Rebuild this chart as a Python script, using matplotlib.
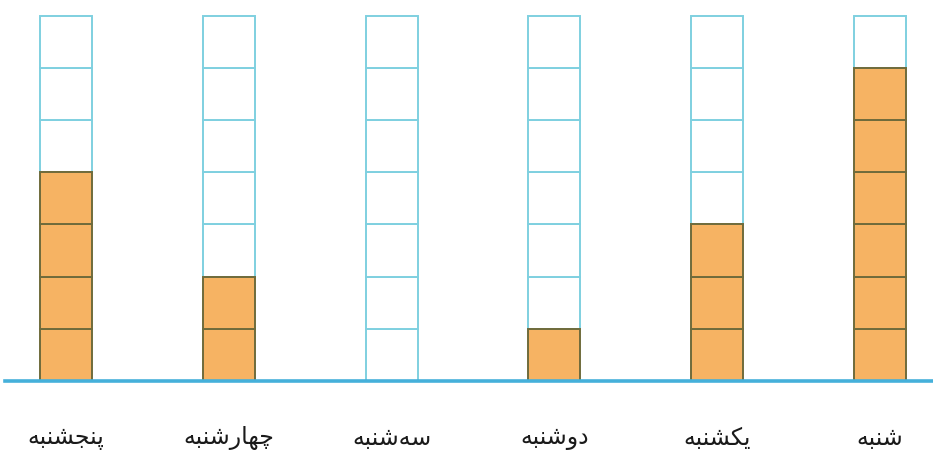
import matplotlib
matplotlib.use('Agg')
import matplotlib.pyplot as plt

# روزهای هفته (از شنبه) و تعداد خانه‌های رنگ‌شده
days = ['شنبه', 'یکشنبه', 'دوشنبه', 'سه‌شنبه', 'چهارشنبه', 'پنجشنبه']
counts = [6, 3, 1, 0, 2, 4]
n_cells = 7

# شکل‌دهی ساده حروف فارسی (matplotlib خودش اتصال حروف را انجام نمی‌دهد)
forms = {
    'ب': ('\uFE8F', '\uFE90', '\uFE91', '\uFE92'),
    'پ': ('\uFB56', '\uFB57', '\uFB58', '\uFB59'),
    'ج': ('\uFE9D', '\uFE9E', '\uFE9F', '\uFEA0'),
    'چ': ('\uFB7A', '\uFB7B', '\uFB7C', '\uFB7D'),
    'س': ('\uFEB1', '\uFEB2', '\uFEB3', '\uFEB4'),
    'ش': ('\uFEB5', '\uFEB6', '\uFEB7', '\uFEB8'),
    'ک': ('\uFB8E', '\uFB8F', '\uFB90', '\uFB91'),
    'ن': ('\uFEE5', '\uFEE6', '\uFEE7', '\uFEE8'),
    'ه': ('\uFEE9', '\uFEEA', '\uFEEB', '\uFEEC'),
    'ی': ('\uFBFC', '\uFBFD', '\uFBFE', '\uFBFF'),
    'ا': ('\uFE8D', '\uFE8E'),
    'د': ('\uFEA9', '\uFEAA'),
    'ر': ('\uFEAD', '\uFEAE'),
    'و': ('\uFEED', '\uFEEE'),
}

def shape(word):
    out = []
    for i, ch in enumerate(word):
        if ch not in forms:
            if ch != '\u200c':
                out.append(ch)
            continue
        prev = word[i - 1] if i > 0 else None
        nxt = word[i + 1] if i + 1 < len(word) else None
        join_prev = prev in forms and len(forms[prev]) == 4
        join_next = len(forms[ch]) == 4 and nxt in forms
        f = forms[ch]
        if join_prev and join_next:
            out.append(f[3])
        elif join_prev:
            out.append(f[1])
        elif join_next:
            out.append(f[2])
        else:
            out.append(f[0])
    return ''.join(out)[::-1]

fig = plt.figure(figsize=(9.33, 4.55), dpi=100)
ax = fig.add_axes([0, 0, 1, 1])

for i, (d, c) in enumerate(zip(days, counts)):
    x = len(days) - 1 - i
    for k in range(n_cells):
        if k < c:
            ax.bar(x, 1, bottom=k, width=0.32, color='#f6b363',
                   edgecolor='#6f6b3b', linewidth=1.4, zorder=3)
        else:
            ax.bar(x, 1, bottom=k, width=0.32, color='white',
                   edgecolor='#7fd0e0', linewidth=1.4, zorder=2)
    ax.text(x, -1.1, shape(d), ha='center', va='center', fontsize=17,
            family=['DejaVu Sans'], color='#1a1a1a')

ax.plot([-0.375, 5.33], [0, 0], color='#45b0da', linewidth=2.6, zorder=4)

ax.set_xlim(-0.405, 5.325)
ax.set_ylim(-1.418, 7.30)
ax.axis('off')
fig.savefig('out.png', dpi=100)
